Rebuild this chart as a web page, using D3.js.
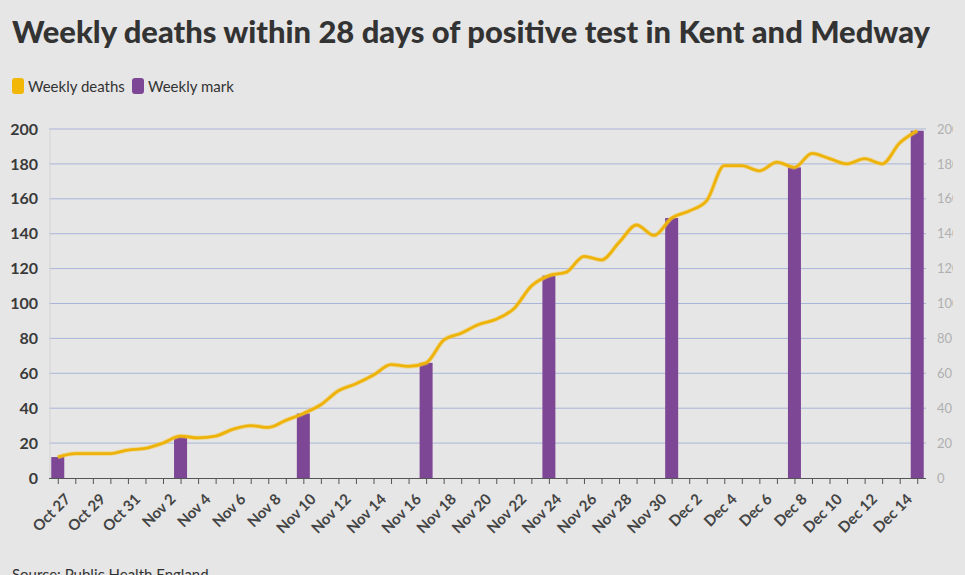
<!DOCTYPE html>
<html><head><meta charset="utf-8">
<script src="https://cdn.jsdelivr.net/npm/d3@7"></script>
<style>
html,body{margin:0;padding:0;background:#e6e6e6;}
svg{display:block;font-family:Lato,"Open Sans",sans-serif;}
</style></head>
<body>
<script>
const dates = ["Oct 27","Oct 28","Oct 29","Oct 30","Oct 31","Nov 1","Nov 2","Nov 3","Nov 4","Nov 5",
"Nov 6","Nov 7","Nov 8","Nov 9","Nov 10","Nov 11","Nov 12","Nov 13","Nov 14","Nov 15",
"Nov 16","Nov 17","Nov 18","Nov 19","Nov 20","Nov 21","Nov 22","Nov 23","Nov 24","Nov 25",
"Nov 26","Nov 27","Nov 28","Nov 29","Nov 30","Dec 1","Dec 2","Dec 3","Dec 4","Dec 5",
"Dec 6","Dec 7","Dec 8","Dec 9","Dec 10","Dec 11","Dec 12","Dec 13","Dec 14","Dec 15"];
const weeklyDeaths = [12,14,14,14,16,17,20,24,23,24,
28,30,29,33,37,42,50,54,59,65,
64,66,79,83,88,91,97,110,116,118,
127,125,135,145,139,149,153,159,179,179,
176,181,178,186,183,180,183,180,192,199];
const markDates = ["Oct 27","Nov 3","Nov 10","Nov 17","Nov 24","Dec 1","Dec 8","Dec 15"];
const markValues = [12,24,37,66,116,149,178,199];
const yTicks = [0,20,40,60,80,100,120,140,160,180,200];
const labelDates = dates.filter((d,i)=>i%2===0);

const W=965,H=575;
const svg=d3.select("body").append("svg").attr("width",W).attr("height",H);
svg.append("rect").attr("width",W).attr("height",H).attr("fill","#e6e6e6");

const x=d3.scalePoint().domain(dates).range([49,926]).padding(0.5);
const y=d3.scaleLinear().domain([0,200]).range([478,129]);

// title
svg.append("text").attr("x",12).attr("y",43)
  .attr("font-size",30).attr("font-weight",900).attr("fill","#333")
  .attr("textLength",918).attr("lengthAdjust","spacingAndGlyphs")
  .text("Weekly deaths within 28 days of positive test in Kent and Medway");

// legend
const leg=[{t:"Weekly deaths",c:"#f2b705",x:12},{t:"Weekly mark",c:"#7e4795",x:132}];
leg.forEach(l=>{
  svg.append("rect").attr("x",l.x).attr("y",78).attr("width",12).attr("height",16).attr("rx",3).attr("fill",l.c);
  svg.append("text").attr("x",l.x+16).attr("y",92).attr("font-size",15).attr("fill","#333").text(l.t);
});

// gridlines
svg.append("g").selectAll("line").data(yTicks.filter(d=>d>0)).join("line")
  .attr("x1",49).attr("x2",926).attr("y1",d=>y(d)).attr("y2",d=>y(d))
  .attr("stroke","#a9b5d8").attr("stroke-width",1);
svg.append("line").attr("x1",50).attr("x2",50).attr("y1",129).attr("y2",478).attr("stroke","#d4d4d4");

// left axis
const gl=svg.append("g").attr("transform","translate(49,0)")
  .call(d3.axisLeft(y).tickValues(yTicks).tickSize(0).tickPadding(11));
gl.select(".domain").remove();
gl.selectAll("text").attr("font-size",16).attr("font-weight",700).attr("fill","#3a3a3a").attr("font-family","Lato,sans-serif");

// right axis (clipped)
svg.append("clipPath").attr("id","rc").append("rect").attr("x",930).attr("y",100).attr("width",23).attr("height",400);
const gr=svg.append("g").attr("clip-path","url(#rc)").append("g").attr("transform","translate(926,0)")
  .call(d3.axisRight(y).tickValues(yTicks).tickSize(0).tickPadding(11));
gr.select(".domain").remove();
gr.selectAll("text").attr("font-size",13).attr("fill","#b0b0b0").attr("font-family","Lato,sans-serif");

// bars
const bw=13;
svg.append("g").selectAll("rect").data(markDates.map((d,i)=>({d,v:markValues[i]}))).join("rect")
  .attr("x",d=>x(d.d)-bw/2).attr("width",bw)
  .attr("y",d=>y(d.v)).attr("height",d=>y(0)-y(d.v))
  .attr("fill","#7e4795");

// x axis
const gx=svg.append("g").attr("transform","translate(0,478)")
  .call(d3.axisBottom(x).tickSize(6).tickSizeOuter(0).tickFormat(d=>labelDates.includes(d)?d:""));
gx.select(".domain").attr("stroke","#555").attr("d","M49,0.5H926");
gx.selectAll(".tick line").attr("stroke","#555");
gx.selectAll("text").attr("font-size",15).attr("font-weight",700).attr("fill","#444")
  .attr("font-family","Lato,sans-serif")
  .attr("text-anchor","end").attr("dy","0.35em")
  .attr("transform","translate(3,12) rotate(-45)");

// line
const line=d3.line().x((d,i)=>x(dates[i])).y(d=>y(d)).curve(d3.curveMonotoneX);
svg.append("path").datum(weeklyDeaths).attr("d",line).attr("fill","none")
  .attr("stroke","#f5c842").attr("stroke-width",4.5).attr("stroke-opacity",0.5);
svg.append("path").datum(weeklyDeaths).attr("d",line).attr("fill","none")
  .attr("stroke","#eeb30a").attr("stroke-width",2.8);

// source
svg.append("text").attr("x",12).attr("y",580).attr("font-size",15).attr("fill","#333")
  .text("Source: Public Health England");
</script>
</body></html>
